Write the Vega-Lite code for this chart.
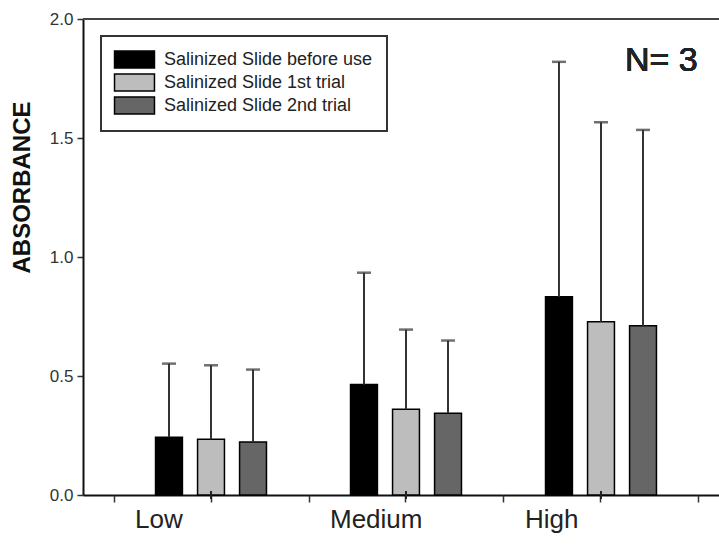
{
  "$schema": "https://vega.github.io/schema/vega-lite/v6.json",
  "width": 636,
  "height": 476,
  "autosize": {"type": "none"},
  "padding": {"left": 83, "top": 19, "right": 0, "bottom": 57},
  "background": "white",
  "config": {
    "view": {"stroke": null},
    "font": "Liberation Sans",
    "legend": {"strokeWidth": 2},
    "axisX": {"domainColor": "#111", "domainWidth": 2, "tickColor": "#333", "tickWidth": 1.5, "tickSize": 7, "title": null, "grid": false},
    "axisY": {"domainColor": "#111", "domainWidth": 2, "tickColor": "#333", "tickWidth": 1.5, "tickSize": 6, "grid": false,
      "labelFontSize": 17, "labelColor": "#333", "labelPadding": 4,
      "titleFontSize": 24, "titleFontWeight": "bold", "titleColor": "#111", "titleX": -61, "titleY": 168,
      "titleAngle": -90, "titleAlign": "center", "titleBaseline": "middle"}
  },
  "data": {"values": [
    {"level": "Low", "series": "Salinized Slide before use", "value": 0.243, "upper": 0.552},
    {"level": "Low", "series": "Salinized Slide 1st trial", "value": 0.234, "upper": 0.545},
    {"level": "Low", "series": "Salinized Slide 2nd trial", "value": 0.223, "upper": 0.527},
    {"level": "Medium", "series": "Salinized Slide before use", "value": 0.464, "upper": 0.934},
    {"level": "Medium", "series": "Salinized Slide 1st trial", "value": 0.36, "upper": 0.695},
    {"level": "Medium", "series": "Salinized Slide 2nd trial", "value": 0.344, "upper": 0.649},
    {"level": "High", "series": "Salinized Slide before use", "value": 0.833, "upper": 1.82},
    {"level": "High", "series": "Salinized Slide 1st trial", "value": 0.728, "upper": 1.566},
    {"level": "High", "series": "Salinized Slide 2nd trial", "value": 0.711, "upper": 1.534}
  ]},
  "layer": [
    {
      "mark": {"type": "rule", "color": "#444", "strokeWidth": 2},
      "encoding": {"y": {"datum": 2, "type": "quantitative", "title": "ABSORBANCE"}}
    },
    {
      "mark": {"type": "bar", "stroke": "#000", "strokeWidth": 1.5},
      "encoding": {
        "x": {"field": "level", "type": "nominal", "sort": null,
          "scale": {"domain": ["Low", "Medium", "High"], "paddingInner": 0, "paddingOuter": 0.1308, "align": 0.598},
          "axis": {"orient": "bottom", "labelAngle": 0, "labelAlign": "left", "labelOffset": -76,
            "labelFontSize": 26, "labelColor": "#222", "labelPadding": 4}},
        "xOffset": {"field": "series", "type": "nominal", "sort": null,
          "scale": {"domain": ["Salinized Slide before use", "Salinized Slide 1st trial", "Salinized Slide 2nd trial"], "paddingInner": 0.36, "paddingOuter": 1.148}},
        "y": {"field": "value", "type": "quantitative", "title": "ABSORBANCE", "scale": {"domain": [0, 2], "nice": false},
          "axis": {"values": [0, 0.5, 1, 1.5, 2], "format": ".1f"}},
        "fill": {"field": "series", "type": "nominal", "sort": null,
          "scale": {"domain": ["Salinized Slide before use", "Salinized Slide 1st trial", "Salinized Slide 2nd trial"], "range": ["#000000", "#bdbdbd", "#666666"]},
          "legend": {"orient": "none", "legendX": 18, "legendY": 17, "title": null, "strokeColor": "#333",
            "fillColor": "white", "padding": 14, "symbolType": "M-2.35,-1H2.35V1H-2.35Z", "symbolSize": 289,
            "symbolOffset": 10, "symbolStrokeColor": "#000", "symbolStrokeWidth": 1.5, "labelFontSize": 18, "labelOffset": 20,
            "labelLimit": 0, "rowPadding": 0, "labelColor": "#222"}}
      }
    },
    {
      "mark": {"type": "rule", "color": "#333", "strokeWidth": 2},
      "encoding": {
        "x": {"field": "level", "type": "nominal", "sort": null,
          "axis": {"orient": "bottom", "tickBand": "extent", "labels": false, "domain": false}},
        "xOffset": {"field": "series", "type": "nominal", "sort": null},
        "y": {"field": "value", "type": "quantitative", "title": "ABSORBANCE"},
        "y2": {"field": "upper"}
      }
    },
    {
      "mark": {"type": "tick", "orient": "horizontal", "size": 14, "thickness": 2.5, "color": "#333"},
      "encoding": {
        "x": {"field": "level", "type": "nominal", "sort": null, "axis": null},
        "xOffset": {"field": "series", "type": "nominal", "sort": null},
        "y": {"field": "upper", "type": "quantitative", "title": "ABSORBANCE"}
      }
    },
    {
      "mark": {"type": "tick", "orient": "vertical", "size": 8, "thickness": 2, "color": "#222", "dy": 5},
      "encoding": {
        "x": {"field": "level", "type": "nominal", "sort": null, "axis": null},
        "y": {"datum": 0, "title": "ABSORBANCE"}
      }
    },
    {
      "mark": {"type": "text", "align": "left", "baseline": "alphabetic", "fontSize": 34, "dx": 24, "color": "#222"},
      "encoding": {
        "x": {"datum": "High", "axis": null},
        "y": {"datum": 1.782, "title": "ABSORBANCE"},
        "text": {"value": "N= 3"}
      }
    }
  ],
  "resolve": {"axis": {"x": "independent"}}
}
